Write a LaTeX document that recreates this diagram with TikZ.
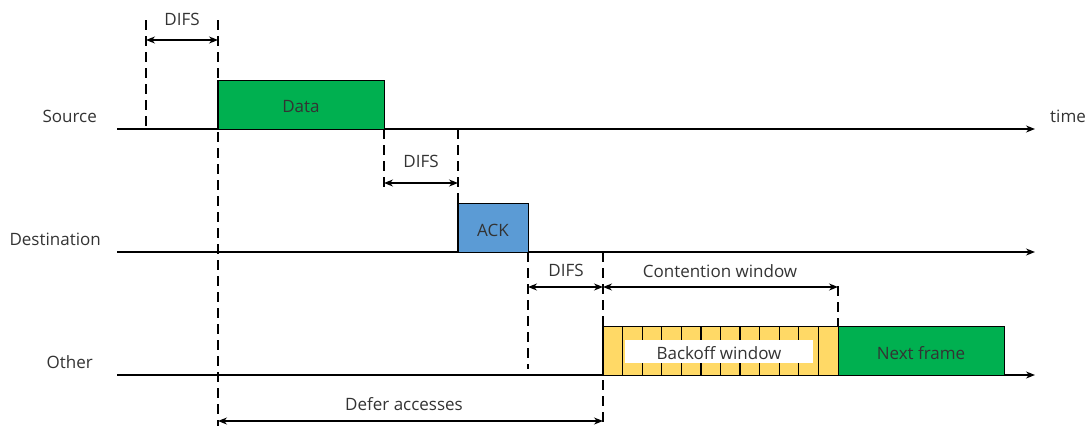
\documentclass[tikz,border=0pt]{standalone}
\usepackage{fontspec}
\setmainfont{Open Sans}
\usetikzlibrary{arrows.meta}
\definecolor{dgreen}{HTML}{00B050}
\definecolor{ablue}{HTML}{5B9BD5}
\definecolor{byellow}{HTML}{FFD966}
\definecolor{txt}{HTML}{333333}
\begin{document}
\begin{tikzpicture}[x=1pt,y=-1pt,
  axis/.style={line width=1.3pt,-{Stealth[length=9pt,width=7pt]}},
  dline/.style={line width=1.3pt,dash pattern=on 10pt off 6pt},
  dim/.style={line width=1.3pt,{Stealth[length=9pt,width=7pt]}-{Stealth[length=9pt,width=7pt]}},
  lbl/.style={font=\fontsize{17}{19}\selectfont,text=txt,inner sep=0pt},
  frame/.style={draw=black,line width=1.3pt}]
\useasboundingbox (0,0) rectangle (1090,426);
% axes
\coordinate (s0) at (117,129); \coordinate (s1) at (1035,129);
\coordinate (d0) at (117,252); \coordinate (d1) at (1035,252);
\coordinate (o0) at (117,375); \coordinate (o1) at (1035,375);
\draw[axis] (s0) -- (s1);
\draw[axis] (d0) -- (d1);
\draw[axis] (o0) -- (o1);
\node[lbl,anchor=east] (lsrc) at (97,116) {Source};
\node[lbl,anchor=east] (ldst) at (101,239) {Destination};
\node[lbl,anchor=east] (loth) at (93,362) {Other};
\node[lbl,anchor=west] (ltime) at (1050,116) {time};
% boxes
\node[frame,fill=dgreen,minimum width=166pt,minimum height=49pt,anchor=north west,inner sep=0pt] (data) at (218,80) {};
\node[lbl] (datat) at (301,107) {Data};
\node[frame,fill=ablue,minimum width=70pt,minimum height=49pt,anchor=north west,inner sep=0pt] (ack) at (458,203) {};
\node[lbl] (ackt) at (493,230) {ACK};
\node[frame,fill=byellow,minimum width=235pt,minimum height=49pt,anchor=north west,inner sep=0pt] (bo) at (603,326) {};
\foreach \i in {1,...,11} {\draw[line width=1.3pt] (603+\i*19.583,326) -- (603+\i*19.583,375);}
\node[fill=white,minimum width=188pt,minimum height=23pt,inner sep=0pt] (bow) at (719,351.5) {};
\node[lbl] (bowt) at (719,353) {Backoff window};
\node[frame,fill=dgreen,minimum width=166pt,minimum height=49pt,anchor=north west,inner sep=0pt] (nf) at (838,326) {};
\node[lbl] (nft) at (921,353) {Next frame};
% dashed lines
\coordinate (a1) at (146,20); \coordinate (a2) at (146,129);
\coordinate (b1) at (218,20); \coordinate (b2) at (218,426);
\coordinate (c1) at (384,129); \coordinate (c2) at (384,190);
\coordinate (e1) at (458,129); \coordinate (e2) at (458,203);
\coordinate (f1) at (528,252); \coordinate (f2) at (528,369);
\coordinate (g1) at (603,252); \coordinate (g2) at (603,426);
\coordinate (h1) at (838,286); \coordinate (h2) at (838,326);
\foreach \p/\q in {a1/a2,b1/b2,c1/c2,e1/e2,f1/f2,g1/g2,h1/h2} \draw[dline] (\p) -- (\q);
\draw[line width=1.3pt] (218,80) -- (218,129);
\draw[line width=1.3pt] (458,203) -- (458,252);
\draw[line width=1.3pt] (603,326) -- (603,375);
% dimension arrows
\coordinate (da1) at (146,40); \coordinate (da2) at (218,40);
\draw[dim] (da1) -- (da2);
\node[lbl] (difs1) at (182,19) {DIFS};
\coordinate (db1) at (384,183); \coordinate (db2) at (458,183);
\draw[dim] (db1) -- (db2);
\node[lbl] (difs2) at (421,161) {DIFS};
\coordinate (dc1) at (528,287); \coordinate (dc2) at (603,287);
\draw[dim] (dc1) -- (dc2);
\node[lbl] (difs3) at (566,270) {DIFS};
\coordinate (dd1) at (603,287); \coordinate (dd2) at (838,287);
\draw[dim] (dd1) -- (dd2);
\node[lbl] (cw) at (720,271) {Contention window};
\coordinate (de1) at (218,421); \coordinate (de2) at (603,421);
\draw[dim] (de1) -- (de2);
\node[lbl] (defer) at (404,404) {Defer accesses};
\end{tikzpicture}
\end{document}
